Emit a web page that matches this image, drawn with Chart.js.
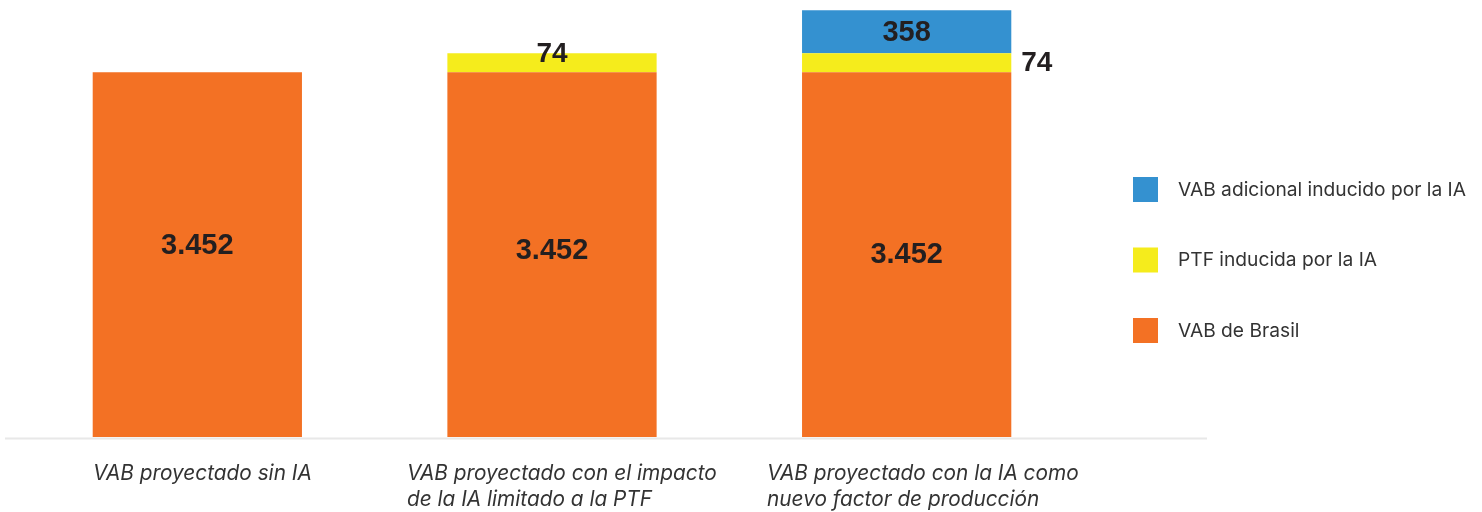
<!DOCTYPE html>
<html>
<head>
<meta charset="utf-8">
<script src="https://cdn.jsdelivr.net/npm/chart.js@4.4.1/dist/chart.umd.min.js"></script>
<style>
html,body{margin:0;padding:0;background:#fff;}
#wrap{width:1482px;height:512px;position:relative;}
</style>
</head>
<body>
<div id="wrap"><canvas id="c" width="1482" height="512"></canvas></div>
<script>
// Categories (multi-line labels)
const categories = [
  ["VAB proyectado sin IA"],
  ["VAB proyectado con el impacto", "de la IA limitado a la PTF"],
  ["VAB proyectado con la IA como", "nuevo factor de producción"]
];
// Series names
const seriesNames = ["VAB de Brasil", "PTF inducida por la IA", "VAB adicional inducido por la IA"];
// Values shown as labels
const vabBrasil = [3452, 3452, 3452];
const ptfInducida = [null, 74, 74];
const vabAdicional = [null, null, 358];
// Segment lengths as drawn in the picture (the reference exaggerates the small segments), chart units
const vabBrasilDrawn = [3452, 3452, 3452];
const ptfDrawn = [null, 179, 179];
const vabAdicionalDrawn = [null, null, 406];
const yMax = 4040;

const colors = ["#F37124", "#F5EC1C", "#3491D0"];

function fmt(v){ return v.toLocaleString('de-DE'); }

const labelsPlugin = {
  id: 'customDraw',
  afterDatasetsDraw(chart) {
    const ctx = chart.ctx;
    const x = chart.scales.x;
    // axis line
    ctx.save();
    ctx.strokeStyle = '#e8e8e8';
    ctx.lineWidth = 2;
    ctx.beginPath();
    ctx.moveTo(5, chart.chartArea.bottom + 1.5);
    ctx.lineTo(1207, chart.chartArea.bottom + 1.5);
    ctx.stroke();

    // value labels
    ctx.fillStyle = '#231f20';
    ctx.textAlign = 'center';
    ctx.textBaseline = 'middle';
    const valueSets = [vabBrasil, ptfInducida, vabAdicional];
    const orangeShift = [-9, -4, 0];
    chart.data.datasets.forEach((ds, di) => {
      const meta = chart.getDatasetMeta(di);
      meta.data.forEach((bar, i) => {
        const v = valueSets[di][i];
        if (v == null) return;
        const props = bar.getProps(['x','y','base','width'], true);
        const mid = (props.y + props.base) / 2;
        if (di === 0) {
          ctx.font = 'bold 29px "Liberation Sans", Arial, sans-serif';
          ctx.textAlign = 'center';
          ctx.fillText(fmt(v), props.x, mid + orangeShift[i]);
        } else if (di === 1) {
          ctx.font = 'bold 28px "Liberation Sans", Arial, sans-serif';
          if (i === 1) {
            ctx.textAlign = 'center';
            ctx.fillText(fmt(v), props.x, props.y + 1);
          } else {
            ctx.textAlign = 'left';
            ctx.fillText(fmt(v), props.x + props.width / 2 + 10, mid + 1);
          }
        } else {
          ctx.font = 'bold 29px "Liberation Sans", Arial, sans-serif';
          ctx.textAlign = 'center';
          ctx.fillText(fmt(v), props.x, mid + 1);
        }
      });
    });

    // category labels (left-aligned block)
    const labelLeft = [93, 407, 767];
    ctx.font = 'italic 20.8px Inter, "Noto Sans", sans-serif';
    ctx.fillStyle = '#333333';
    ctx.textAlign = 'left';
    ctx.textBaseline = 'middle';
    categories.forEach((lines, i) => {
      const left = labelLeft[i];
      lines.forEach((l, li) => {
        ctx.fillText(l, left, 474 + li * 26);
      });
    });

    // legend (reverse order, blue on top)
    ctx.font = '19.2px Inter, "Noto Sans", sans-serif';
    ctx.textAlign = 'left';
    ctx.textBaseline = 'middle';
    const order = [2, 1, 0];
    order.forEach((di, k) => {
      const top = 177 + k * 70.5;
      ctx.fillStyle = chart.data.datasets[di].backgroundColor;
      ctx.fillRect(1133, top, 25, 25);
      ctx.fillStyle = '#333333';
      ctx.fillText(chart.data.datasets[di].label, 1178, top + 13);
    });
    ctx.restore();
  }
};

new Chart(document.getElementById('c'), {
  type: 'bar',
  data: {
    labels: categories,
    datasets: [
      { label: seriesNames[0], data: vabBrasilDrawn, backgroundColor: colors[0] },
      { label: seriesNames[1], data: ptfDrawn, backgroundColor: colors[1] },
      { label: seriesNames[2], data: vabAdicionalDrawn, backgroundColor: colors[2] }
    ]
  },
  options: {
    responsive: false,
    animation: false,
    events: [],
    layout: { padding: { left: 20, right: 398, top: 10, bottom: 75 } },
    datasets: { bar: { categoryPercentage: 1.0, barPercentage: 0.59, borderWidth: 0 } },
    scales: {
      x: { stacked: true, display: false },
      y: { stacked: true, display: false, min: 0, max: yMax }
    },
    plugins: { legend: { display: false }, tooltip: { enabled: false } }
  },
  plugins: [labelsPlugin]
});
</script>
</body>
</html>
